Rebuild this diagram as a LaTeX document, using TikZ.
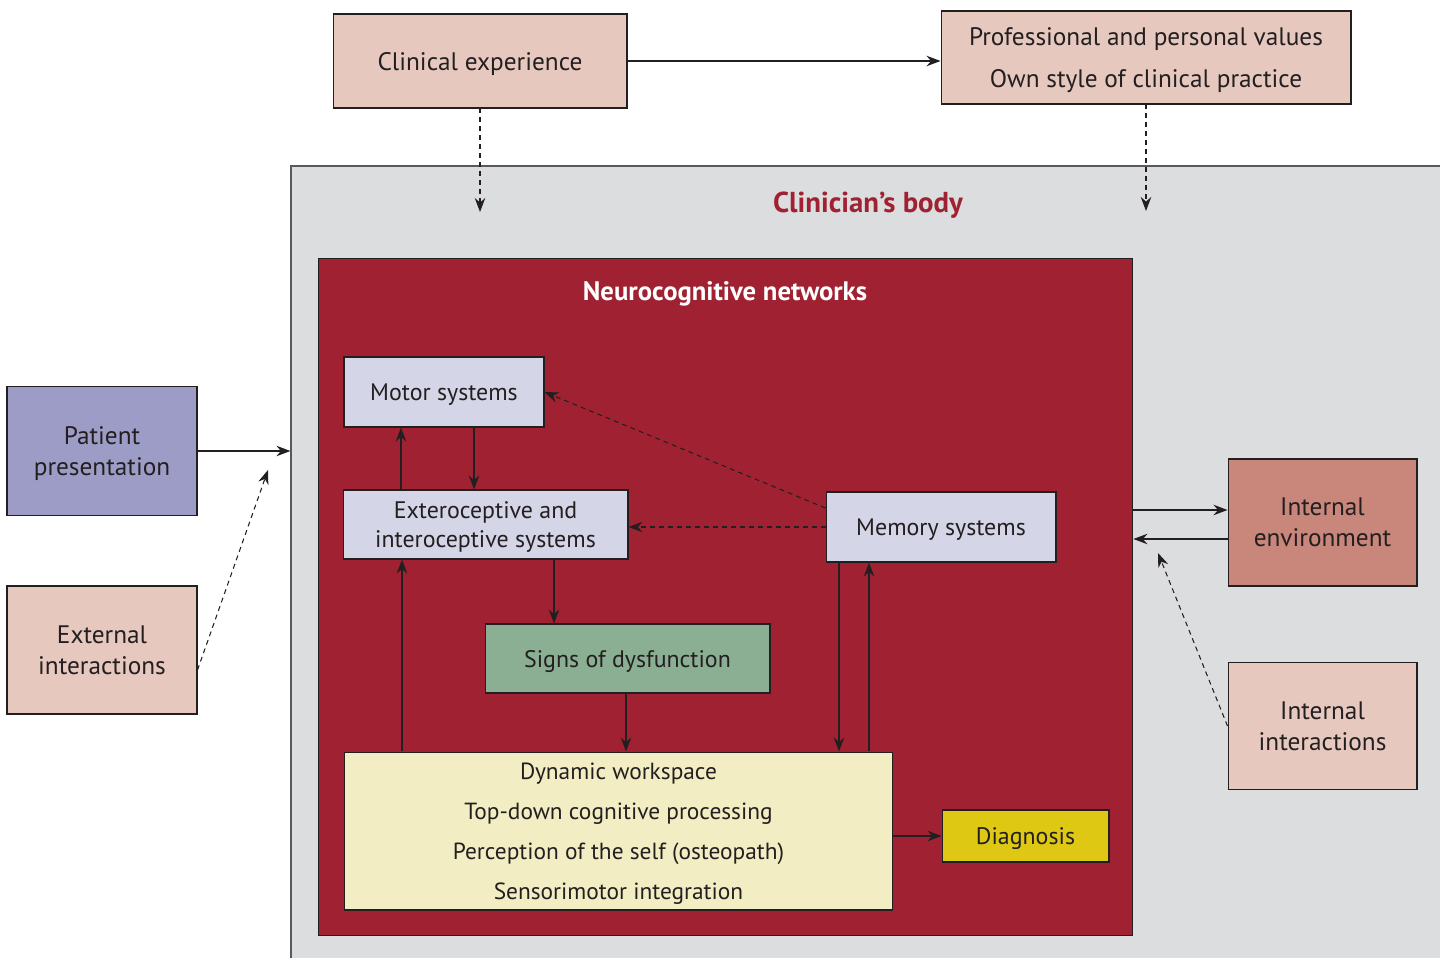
\documentclass[tikz,border=0pt]{standalone}
\usepackage{fontspec}
\setmainfont{PT Sans}
\usepackage{tikz}
\usepackage{xcolor}
\usetikzlibrary{arrows.meta,positioning,calc}
\definecolor{ink}{HTML}{231F20}
\definecolor{frame}{HTML}{58595B}
\definecolor{peach}{HTML}{E6C8BE}
\definecolor{patblue}{HTML}{9D9CC6}
\definecolor{envred}{HTML}{C9867A}
\definecolor{bodygray}{HTML}{DCDDDF}
\definecolor{netred}{HTML}{A02232}
\definecolor{lavender}{HTML}{D4D5E6}
\definecolor{signgreen}{HTML}{8BAF92}
\definecolor{cream}{HTML}{F3EDC3}
\definecolor{diagyellow}{HTML}{DEC814}
\tikzset{
  outerbox/.style={draw=ink,line width=0.6pt,text=ink,align=center,
                   font=\fontsize{14.4}{17.6}\selectfont,inner sep=2pt,text depth=0pt},
  innerbox/.style={draw=ink,line width=0.6pt,text=ink,align=center,
                   font=\fontsize{13.6}{16.4}\selectfont,inner sep=2pt,text depth=0pt},
  flowarr/.style={-{Stealth[length=2.8mm,width=2.1mm]},line width=0.6pt,color=ink},
  softarr/.style={flowarr,dash pattern=on 2.8pt off 2.3pt}
}

\begin{document}
\begin{tikzpicture}[x=0.02cm,y=-0.02cm]
  \useasboundingbox (0,0) rectangle (1440,957);
  \clip (0,0) rectangle (1440,957);

  % clinician's body and the network inside it
  \node[draw=frame,fill=bodygray,line width=0.8pt,minimum width=23.38cm,
        minimum height=16.28cm,inner sep=0pt] (body) at (875.5,573) {};
  \node[font=\fontsize{16.4}{19}\selectfont\bfseries,text=netred] (bodytitle)
        at (868,205) {Clinician’s body};
  \node[draw=ink,fill=netred,line width=0.6pt,minimum width=16.3cm,
        minimum height=13.56cm,inner sep=0pt] (net) at (725.5,597) {};
  \node[font=\fontsize{15.2}{18}\selectfont\bfseries,text=white] (nettitle)
        at (725,294) {Neurocognitive networks};

  % outside boxes
  \node[outerbox,fill=peach,minimum width=5.88cm,minimum height=1.88cm]
        (clin) at (480,61) {Clinical experience};
  \node[outerbox,fill=peach,minimum width=8.2cm,minimum height=1.86cm,
        font=\fontsize{14.4}{24.4}\selectfont] (values) at (1146,57.5)
        {Professional and personal values\\Own style of clinical practice};
  \node[outerbox,fill=patblue,minimum width=3.8cm,minimum height=2.58cm]
        (patient) at (102,451) {Patient\\presentation};
  \node[outerbox,fill=peach,minimum width=3.8cm,minimum height=2.56cm]
        (external) at (102,650) {External\\interactions};
  \node[outerbox,fill=envred,minimum width=3.78cm,minimum height=2.54cm]
        (intenv) at (1322.5,522.5) {Internal\\environment};
  \node[outerbox,fill=peach,minimum width=3.78cm,minimum height=2.54cm]
        (intint) at (1322.5,726) {Internal\\interactions};

  % network boxes
  \node[innerbox,fill=lavender,minimum width=4.0cm,minimum height=1.4cm]
        (motor) at (444,392) {Motor systems};
  \node[innerbox,fill=lavender,minimum width=5.7cm,minimum height=1.38cm]
        (extero) at (485.5,524.5) {Exteroceptive and\\interoceptive systems};
  \node[innerbox,fill=lavender,minimum width=4.6cm,minimum height=1.4cm]
        (memory) at (941,527) {Memory systems};
  \node[innerbox,fill=signgreen,minimum width=5.7cm,minimum height=1.38cm]
        (signs) at (627.5,658.5) {Signs of dysfunction};
  \node[innerbox,fill=cream,minimum width=10.98cm,minimum height=3.16cm,
        font=\fontsize{13.3}{22.7}\selectfont] (work) at (618.5,831)
        {Dynamic workspace\\Top-down cognitive processing\\
         Perception of the self (osteopath)\\Sensorimotor integration};
  \node[innerbox,fill=diagyellow,minimum width=3.34cm,minimum height=1.04cm]
        (diag) at (1025.5,836) {Diagnosis};

  \coordinate (clinin) at (480,212);
  \coordinate (valin) at (1146,211);
  \coordinate (extin) at (268,470);
  \coordinate (intin) at (1158,553);

  % connectors
  \draw[flowarr] (clin.east) -- (clin.east -| values.west);
  \draw[softarr] (clin.south) -- (clinin);
  \draw[softarr] (values.south) -- (valin);
  \draw[flowarr] (patient.east) -- (patient.east -| body.west);
  \draw[softarr] ($(external.east)+(0,20)$) -- (extin);
  \draw[flowarr] (net.east |- 0,510) -- (intenv.west |- 0,510);
  \draw[flowarr] (intenv.west |- 0,539) -- (net.east |- 0,539);
  \draw[softarr] (intint.west) -- (intin);

  \draw[flowarr] (motor.south -| 474,0) -- (extero.north -| 474,0);
  \draw[flowarr] (extero.north -| 401,0) -- (motor.south -| 401,0);
  \draw[softarr] ($(memory.west)+(0,-19)$) -- (motor.east);
  \draw[softarr] (memory.west) -- (memory.west -| extero.east);
  \draw[flowarr] (extero.south -| 554,0) -- (signs.north -| 554,0);
  \draw[flowarr] (signs.south -| 626,0) -- (work.north -| 626,0);
  \draw[flowarr] (work.north -| 402,0) -- (extero.south -| 402,0);
  \draw[flowarr] (memory.south -| 839,0) -- (work.north -| 839,0);
  \draw[flowarr] (work.north -| 869,0) -- (memory.south -| 869,0);
  \draw[flowarr] (work.east |- diag.west) -- (diag.west);
\end{tikzpicture}
\end{document}
